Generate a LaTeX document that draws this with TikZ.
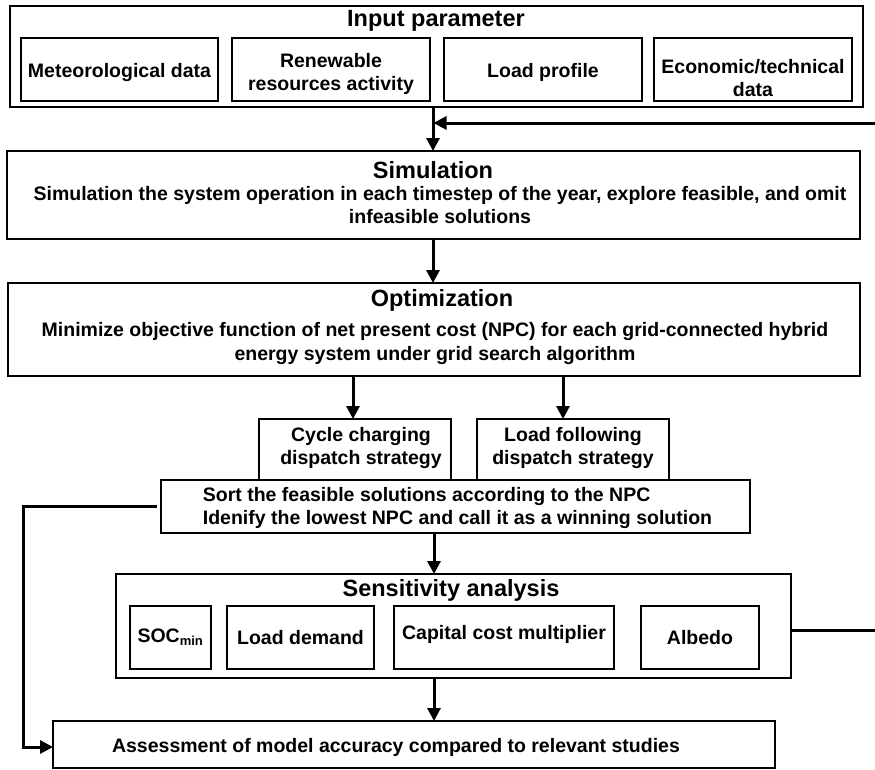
\documentclass[tikz,border=0pt]{standalone}
\usepackage{fontspec}
\setmainfont{Liberation Sans}
\usetikzlibrary{arrows.meta}
\tikzset{
  box/.style={draw, line width=2.8pt, fill=white, inner sep=0pt, outer sep=0pt},
  txt/.style={inner sep=0pt, align=center, font=\bfseries\fontsize{19.5}{23.5}\selectfont},
  ttl/.style={inner sep=0pt, font=\bfseries\fontsize{23.5}{28}\selectfont},
  conn/.style={line width=3pt},
  arr/.style={line width=3pt, -{Triangle[length=13pt,width=13pt]}}
}
\begin{document}
\begin{tikzpicture}[x=1pt,y=-1pt]
\useasboundingbox (0,0) rectangle (875,769);
% Input parameter
\node[box, minimum width=853, minimum height=101] (inp) at (436.5,56.5) {};
\node[ttl] (inpt) at (436,21) {Input parameter};
\node[box, minimum width=197, minimum height=63] (met) at (119.5,69.5) {};
\node[box, minimum width=198, minimum height=63] (ren) at (331,69.5) {};
\node[box, minimum width=198, minimum height=63] (lod) at (543,69.5) {};
\node[box, minimum width=198, minimum height=63] (eco) at (753,69.5) {};
\node[txt] (mett) at (119.5,72) {Meteorological data};
\node[txt] (rent) at (331,74) {Renewable\\resources activity};
\node[txt] (lodt) at (543,72) {Load profile};
\node[txt] (ecot) at (753,78) {Economic/technical\\data};
% Simulation
\node[box, minimum width=853, minimum height=88] (sim) at (433.5,195) {};
\node[ttl] (simt) at (433,170) {Simulation};
\node[txt] (simb) at (440,205) {Simulation the system operation in each timestep of the year, explore feasible, and omit\\infeasible solutions};
% Optimization
\node[box, minimum width=852, minimum height=93] (opt) at (434,329.5) {};
\node[ttl] (optt) at (442,300) {Optimization};
\node[txt] (optb) at (435,343.5) {Minimize objective function of net present cost (NPC) for each grid-connected hybrid\\energy system under grid search algorithm};
% Strategies
\node[box, minimum width=192, minimum height=61] (cyc) at (355,449.5) {};
\node[box, minimum width=192, minimum height=61] (lfo) at (573,449.5) {};
\node[txt] (cyct) at (361,448) {Cycle charging\\dispatch strategy};
\node[txt] (lfot) at (573,448) {Load following\\dispatch strategy};
% Sort
\node[box, minimum width=589, minimum height=53] (sort) at (455.5,506.5) {};
\node[txt, align=left] (sortt) at (457.5,508) {Sort the feasible solutions according to the NPC\\Idenify the lowest NPC and call it as a winning solution};
% Sensitivity
\node[box, minimum width=675, minimum height=104] (sens) at (453.5,626) {};
\node[ttl] (senst) at (451,590) {Sensitivity analysis};
\node[box, minimum width=81, minimum height=63] (soc) at (170.5,637.5) {};
\node[box, minimum width=147, minimum height=63] (ldm) at (300.5,637.5) {};
\node[box, minimum width=220, minimum height=63] (cap) at (504,637.5) {};
\node[box, minimum width=118, minimum height=63] (alb) at (700,637.5) {};
\node[txt] (soct) at (170.5,637.5) {SOC\textsubscript{\fontsize{13}{15}\selectfont min}};
\node[txt] (ldmt) at (300.5,637.5) {Load demand};
\node[txt] (capt) at (504,634) {Capital cost multiplier};
\node[txt] (albt) at (700,637.5) {Albedo};
% Assessment
\node[box, minimum width=722, minimum height=47] (ass) at (414,744.5) {};
\node[txt] (asst) at (396,747) {Assessment of model accuracy compared to relevant studies};
% connectors
\coordinate (c1) at (433,0);
\coordinate (c2) at (353,0);
\coordinate (c3) at (563,0);
\coordinate (c4) at (434,0);
\coordinate (fb1) at (875,123);
\coordinate (fb2) at (875,630);
\coordinate (lf) at (23,506);
\coordinate (lfb) at (23,747);
\draw[arr] (c1 |- inp.south) -- (c1 |- sim.north);
\draw[arr, shorten >=-1pt] (fb1) -- ([xshift=1.5pt]fb1 -| c1);
\draw[arr] (c1 |- sim.south) -- (c1 |- opt.north);
\draw[arr] (c2 |- opt.south) -- (c2 |- cyc.north);
\draw[arr] (c3 |- opt.south) -- (c3 |- lfo.north);
\draw[arr] (c4 |- sort.south) -- (c4 |- sens.north);
\draw[arr] (c4 |- sens.south) -- (c4 |- ass.north);
\draw[conn] (sens.east |- fb2) -- (fb2);
\draw[arr] ([xshift=-4pt]sort.west |- lf) -- (lf) -- (lfb) -- (lfb -| ass.west);
\end{tikzpicture}
\end{document}
